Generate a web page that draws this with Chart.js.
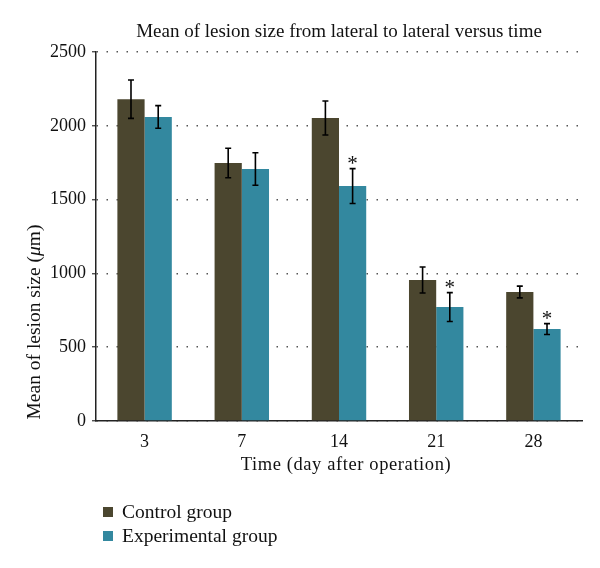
<!DOCTYPE html>
<html>
<head>
<meta charset="utf-8">
<script src="https://cdn.jsdelivr.net/npm/chart.js@4.4.1/dist/chart.umd.min.js"></script>
<style>
  html, body { margin: 0; padding: 0; background: #fff; }
  #wrap { position: relative; width: 600px; height: 568px; }
  #legend { position: absolute; left: 103px; top: 500px; font-family: "Liberation Serif", serif; font-size: 19.5px; color: #111; }
  #legend div { display: flex; align-items: center; height: 24px; }
  #legend span.sw { display: inline-block; width: 10px; height: 10px; margin-right: 9px; }
</style>
</head>
<body>
<div id="wrap">
  <canvas id="c" width="600" height="568"></canvas>
  <div id="legend"></div>
</div>
<script>
const categories = ["3", "7", "14", "21", "28"];
const seriesNames = ["Control group", "Experimental group"];
const controlMeans = [2180, 1748, 2053, 955, 874];
const controlErrors = [130, 100, 115, 88, 40];
const experimentalMeans = [2060, 1707, 1592, 772, 623];
const experimentalErrors = [77, 110, 118, 98, 37];
const experimentalSignificant = [false, false, true, true, true];
const yTicks = [0, 500, 1000, 1500, 2000, 2500];
const chartTitle = "Mean of lesion size from lateral to lateral versus time";
const xTitle = "Time (day after operation)";

const colors = ["#4b462f", "#33889f"];
const serif = '"Liberation Serif", "Times New Roman", serif';

const errorBars = {
  id: 'errorBars',
  afterDatasetsDraw(chart) {
    const ctx = chart.ctx;
    const y = chart.scales.y;
    const errs = [controlErrors, experimentalErrors];
    ctx.save();
    ctx.strokeStyle = '#000';
    ctx.lineWidth = 1.6;
    chart.data.datasets.forEach((ds, di) => {
      const meta = chart.getDatasetMeta(di);
      meta.data.forEach((bar, i) => {
        const v = ds.data[i], e = errs[di][i];
        const x = bar.x;
        const yt = y.getPixelForValue(v + e), yb = y.getPixelForValue(v - e);
        ctx.beginPath();
        ctx.moveTo(x, yt); ctx.lineTo(x, yb);
        ctx.moveTo(x - 3, yt); ctx.lineTo(x + 3, yt);
        ctx.moveTo(x - 3, yb); ctx.lineTo(x + 3, yb);
        ctx.stroke();
        if (di === 1 && experimentalSignificant[i]) {
          ctx.fillStyle = '#111';
          ctx.font = '21px ' + serif;
          ctx.textAlign = 'center';
          ctx.textBaseline = 'alphabetic';
          ctx.fillText('*', x, yt + 1);
        }
      });
    });
    ctx.restore();
  }
};

const titles = {
  id: 'titles',
  afterDraw(chart) {
    const ctx = chart.ctx;
    ctx.save();
    ctx.fillStyle = '#111';
    ctx.textBaseline = 'alphabetic';
    ctx.textAlign = 'center';
    ctx.font = '19px ' + serif;
    ctx.fillText(chartTitle, 339, 37);
    ctx.font = '18.5px ' + serif;
    ctx.letterSpacing = '0.6px';
    ctx.fillText(xTitle, 346, 470);
    ctx.letterSpacing = '0px';
    ctx.translate(40, 322);
    ctx.rotate(-Math.PI / 2);
    const f = '19.5px ' + serif;
    const parts = [["Mean of lesion size (", f], ["\u03bc", 'italic ' + f], ["m)", f]];
    let total = 0;
    parts.forEach(p => { ctx.font = p[1]; total += ctx.measureText(p[0]).width; });
    let xx = -total / 2;
    ctx.textAlign = 'left';
    parts.forEach(p => { ctx.font = p[1]; ctx.fillText(p[0], xx, 0); xx += ctx.measureText(p[0]).width; });
    ctx.restore();
  }
};

const chart = new Chart(document.getElementById('c'), {
  type: 'bar',
  data: {
    labels: categories,
    datasets: [
      { label: seriesNames[0], data: controlMeans, backgroundColor: colors[0] },
      { label: seriesNames[1], data: experimentalMeans, backgroundColor: colors[1] }
    ]
  },
  options: {
    responsive: false,
    animation: false,
    layout: { padding: { top: 52, right: 18, bottom: 117, left: 0 } },
    plugins: { legend: { display: false }, tooltip: { enabled: false }, title: { display: false } },
    datasets: { bar: { barPercentage: 1, categoryPercentage: 0.56 } },
    scales: {
      x: {
        grid: { display: false },
        border: { display: true, color: '#222', width: 1.5 },
        ticks: { color: '#111', font: { family: serif, size: 18 }, padding: 2 },
        afterFit(s) { s.height = 30; }
      },
      y: {
        min: 0, max: 2500,
        afterBuildTicks(s) { s.ticks = yTicks.map(v => ({ value: v })); },
        grid: { color: '#555', lineWidth: 1.5, drawTicks: true, tickLength: 4, tickColor: '#333', tickWidth: 1.2, tickBorderDash: [] },
        border: { display: true, color: '#222', width: 1.5, dash: [1.5, 8.5] },
        ticks: { color: '#111', font: { family: serif, size: 18 }, padding: 6, callback: v => String(v) },
        afterFit(s) { s.width = 96; }
      }
    }
  },
  plugins: [errorBars, titles]
});

const leg = document.getElementById('legend');
chart.data.datasets.forEach(ds => {
  const row = document.createElement('div');
  const sw = document.createElement('span');
  sw.className = 'sw';
  sw.style.background = ds.backgroundColor;
  row.appendChild(sw);
  row.appendChild(document.createTextNode(ds.label));
  leg.appendChild(row);
});
</script>
</body>
</html>
